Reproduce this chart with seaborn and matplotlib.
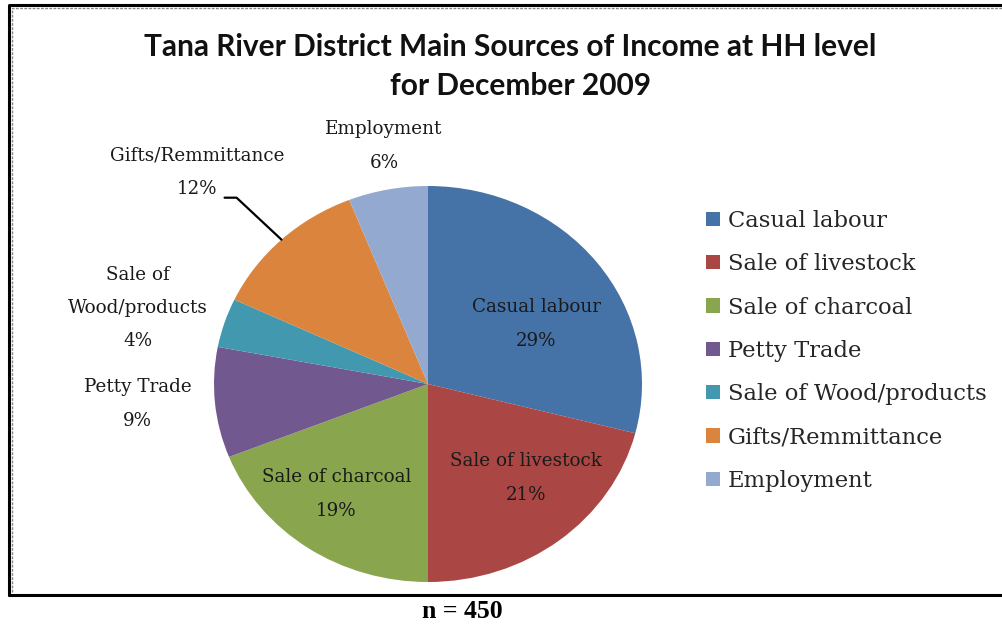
import numpy as np
import seaborn as sns
import matplotlib.pyplot as plt
from matplotlib.patches import Patch
from matplotlib.lines import Line2D

# data
sources = ["Casual labour", "Sale of livestock", "Sale of charcoal", "Petty Trade",
           "Sale of Wood/products", "Gifts/Remmittance", "Employment"]
shares = [29, 21, 19, 9, 4, 12, 6]
label_text = ["Casual labour", "Sale of livestock", "Sale of charcoal", "Petty Trade",
              "Sale of\nWood/products", "Gifts/Remmittance", "Employment"]
colors = ["#4572A7", "#AA4643", "#89A54E", "#71588F", "#4198AF", "#DB843D", "#93A9CF"]

# label placement (radius, angle tweak in degrees) per slice
label_r = [0.59, 0.66, 0.70, 1.36, 1.41, 1.52, 1.22]
label_dt = [-6.8, 6.2, -3.4, -1.1, 2.2, 2.1, -1.1]

sns.set_style("white")
palette = sns.color_palette(colors)

W, H = 1002, 625
fig = plt.figure(figsize=(W / 100, H / 100), dpi=100)

# pie centre (428, 384) px, radii 214 x 198 px
cx, cy, rx, ry = 428, 384, 214, 198
lim = 1.6
ax = fig.add_axes([(cx - lim * rx) / W, 1 - (cy + lim * ry) / H, 2 * lim * rx / W, 2 * lim * ry / H])
wedges, _ = ax.pie(shares, colors=palette, startangle=90, counterclock=False,
                   wedgeprops=dict(linewidth=0))
ax.set_aspect("auto")
ax.set_xlim(-lim, lim)
ax.set_ylim(-lim, lim)
ax.axis("off")

lbl_font = dict(family="DejaVu Serif", fontsize=13.2, color="#1a1a1a")
for w, txt, v, r, dt in zip(wedges, label_text, shares, label_r, label_dt):
    mid = np.deg2rad((w.theta1 + w.theta2) / 2 + dt)
    ax.text(r * np.cos(mid), r * np.sin(mid), f"{txt}\n{v}%", ha="center", va="center",
            linespacing=2.1, **lbl_font)

# leader line for Gifts/Remmittance
g = wedges[5]
gm = np.deg2rad((g.theta1 + g.theta2) / 2)
end = np.array([np.cos(gm), np.sin(gm)])
bend = end + np.array([-0.21, 0.212])
start = bend + np.array([-0.056, 0])
ax.plot([start[0], bend[0], end[0]], [start[1], bend[1], end[1]], color="black", lw=1.6,
        clip_on=False)

# title
title_font = dict(family="Lato", weight="bold", fontsize=21.5, color="#111111")
fig.text(510 / W, 1 - 47 / H, "Tana River District Main Sources of Income at HH level",
         ha="center", va="center", **title_font)
fig.text(521 / W, 1 - 86 / H, "for December 2009", ha="center", va="center", **title_font)

# legend
handles = [Patch(facecolor=c, edgecolor="none") for c in palette]
fig.legend(handles, sources, loc="upper left", bbox_to_anchor=(706 / W, 1 - 210 / H),
           frameon=False, prop=dict(family="DejaVu Serif", size=16.3),
           handlelength=0.6, handleheight=0.6, handletextpad=0.35,
           labelspacing=0.94, borderaxespad=0, borderpad=0)

# chart border
fig.add_artist(Line2D([9 / W, 9 / W, 1.02], [1 - 595 / H, 1 - 5 / H, 1 - 5 / H],
                      color="black", lw=2.2, transform=fig.transFigure))
fig.add_artist(Line2D([9 / W, 1.02], [1 - 595 / H, 1 - 595 / H], color="black", lw=2.2,
                      transform=fig.transFigure))
fig.add_artist(Line2D([12 / W, 12 / W, 1.02], [1 - 592 / H, 1 - 8 / H, 1 - 8 / H],
                      color="#888888", lw=1.0, ls=(0, (2, 1)), transform=fig.transFigure))

fig.text(462 / W, 1 - 611 / H, "n = 450", ha="center", va="center",
         family="Liberation Serif", weight="bold", fontsize=18.5, color="black")

fig.savefig("out.png", dpi=100, facecolor="white")
